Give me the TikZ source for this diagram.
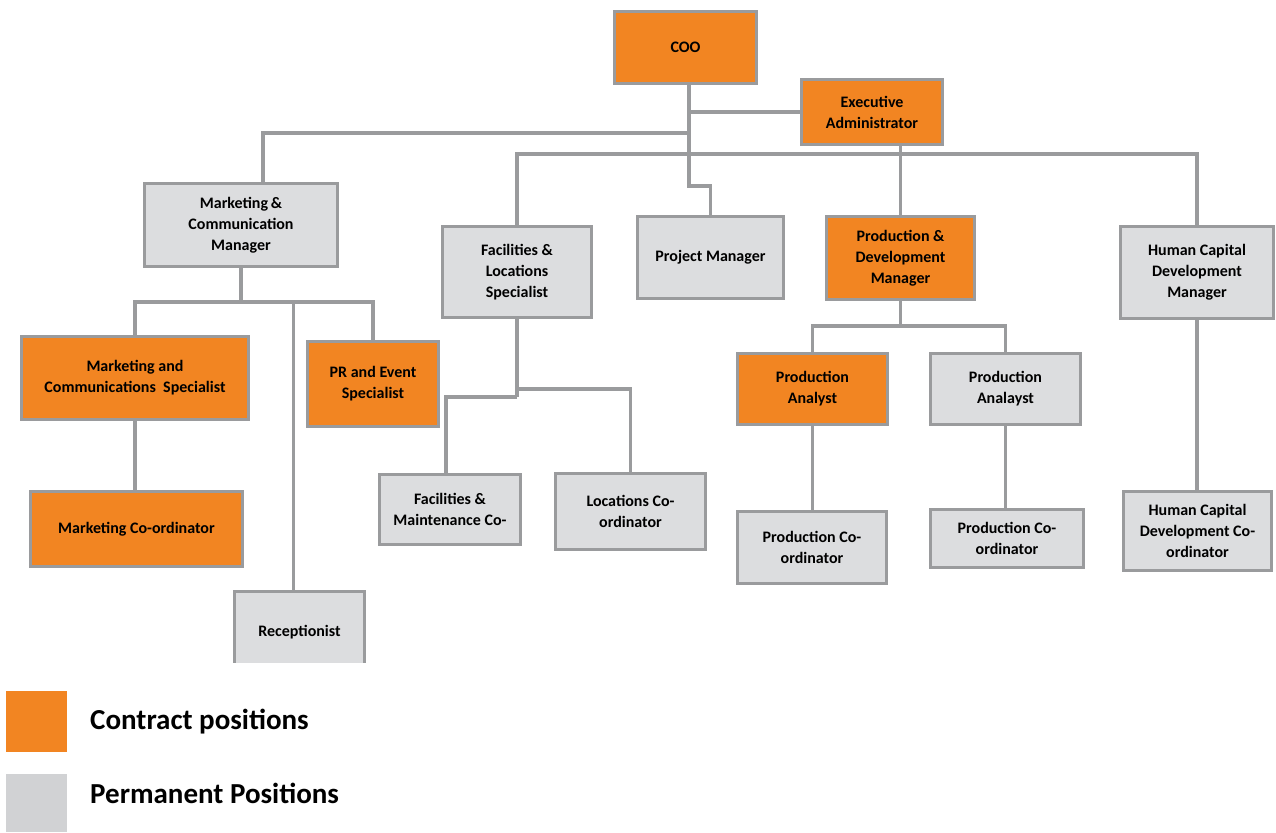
\documentclass[tikz,border=0pt]{standalone}
\usepackage{fontspec}
\setmainfont{Carlito}
\definecolor{orng}{HTML}{F28522}
\definecolor{gfill}{HTML}{DCDDDF}
\definecolor{bordc}{HTML}{9A9B9D}
\definecolor{lgrey}{HTML}{D1D2D4}
\tikzset{
  box/.style={rectangle, draw=bordc, line width=3pt, align=center, inner sep=0pt,
    font=\bfseries\fontsize{16}{21}\selectfont},
  obox/.style={box, fill=orng},
  gbox/.style={box, fill=gfill},
  conn/.style={draw=bordc, line width=3.5pt},
  legtext/.style={anchor=west, inner sep=0pt, font=\bfseries\fontsize{29}{34}\selectfont},
}
\begin{document}
\begin{tikzpicture}[x=1pt,y=-1pt]
\useasboundingbox (0,0) rectangle (1276,832);
\fill[white] (0,0) rectangle (1276,832);

\coordinate (trunkEnd) at (689,154);
\coordinate (mcmjoin) at (689,133);

% boxes
\node[obox, minimum width=142, minimum height=72] (coo) at (685.5,47.5) {COO};
\node[obox, minimum width=141, minimum height=65] (exa) at (872,112) {Executive\\Administrator};
\node[gbox, minimum width=193, minimum height=83] (mcm) at (241,225) {Marketing\,\&\\Communication\\Manager};
\node[obox, minimum width=227, minimum height=83] (mcs) at (135,378) {Marketing and\\Communications\ \ Specialist};
\node[obox, minimum width=212, minimum height=75] (mco) at (136.5,529) {Marketing Co-ordinator};
\node[obox, minimum width=131, minimum height=85] (pr) at (373,384) {PR and Event\\Specialist};
\begin{scope}
  \clip (200,580) rectangle (400,662);
  \node[gbox, minimum width=130, minimum height=81] (rec) at (299.5,632) {Receptionist};
\end{scope}
\node[gbox, minimum width=149, minimum height=91] (fls) at (517,272) {Facilities \&\\Locations\\Specialist};
\node[gbox, minimum width=141, minimum height=70] (fm) at (450,509.5) {Facilities \&\\Maintenance Co-};
\node[gbox, minimum width=150, minimum height=76] (loc) at (630.5,511.5) {Locations Co-\\ordinator};
\node[gbox, minimum width=146, minimum height=82] (pm) at (710.5,257.5) {Project Manager};
\node[obox, minimum width=148, minimum height=83] (pdm) at (900.5,258) {Production \&\\Development\\Manager};
\node[obox, minimum width=150, minimum height=71] (pa1) at (812.5,389) {Production\\Analyst};
\node[gbox, minimum width=150, minimum height=71] (pa2) at (1005.5,389) {Production\\Analayst};
\node[gbox, minimum width=149, minimum height=72] (pc1) at (812,547.5) {Production Co-\\ordinator};
\node[gbox, minimum width=153, minimum height=58] (pc2) at (1007,538.5) {Production Co-\\ordinator};
\node[gbox, minimum width=153, minimum height=92] (hcm) at (1197,272.5) {Human Capital\\Development\\Manager};
\node[gbox, minimum width=148, minimum height=79] (hcc) at (1197.5,531) {Human Capital\\Development Co-\\ordinator};

% connectors
\draw[conn] (coo.south -| trunkEnd) -- (trunkEnd);
\draw[conn] (exa.west) -- (exa.west -| trunkEnd);
\draw[conn] ([xshift=22]mcm.north) -- ([xshift=22]mcm.north |- mcmjoin) -- (mcmjoin);
\draw[conn] (fls.north) -- (fls.north |- trunkEnd) -- (hcm.north |- trunkEnd) -- (hcm.north);
\draw[conn] (trunkEnd) -- ++(0,32) -| (pm.north);
\draw[conn] (exa.south -| pdm.north) -- (pdm.north);

\draw[conn] (mcm.south) -- ++(0,34) coordinate (mb);
\draw[conn] (mcs.north) -- (mcs.north |- mb) -- (pr.north |- mb) -- (pr.north);
\draw[conn] ([xshift=-6]rec.north |- mb) -- ([xshift=-6]rec.north);
\draw[conn] (mcs.south) -- (mcs.south |- mco.north);

\draw[conn] (fls.south) -- ++(0,78) coordinate (fb2);
\draw[conn] (fls.south) ++(0,70) coordinate (fb1) -| (loc.north);
\draw[conn] (fb2) -| ([xshift=-4]fm.north);

\draw[conn] (pdm.south) -- ++(0,25) coordinate (pb);
\draw[conn] (pa1.north) |- (pb) -| (pa2.north);
\draw[conn] (pa1.south) -- (pa1.south |- pc1.north);
\draw[conn] (pa2.south) -- (pa2.south |- pc2.north);
\draw[conn] (hcm.south) -- (hcm.south |- hcc.north);

% legend
\node[fill=orng, minimum width=61, minimum height=61, inner sep=0pt] (legc) at (36.5,721.5) {};
\node[fill=lgrey, minimum width=61, minimum height=58, inner sep=0pt] (legp) at (36.5,803) {};
\node[legtext] (legct) at (90,722) {Contract positions};
\node[legtext] (legpt) at (90,793) {Permanent Positions};
\end{tikzpicture}
\end{document}
